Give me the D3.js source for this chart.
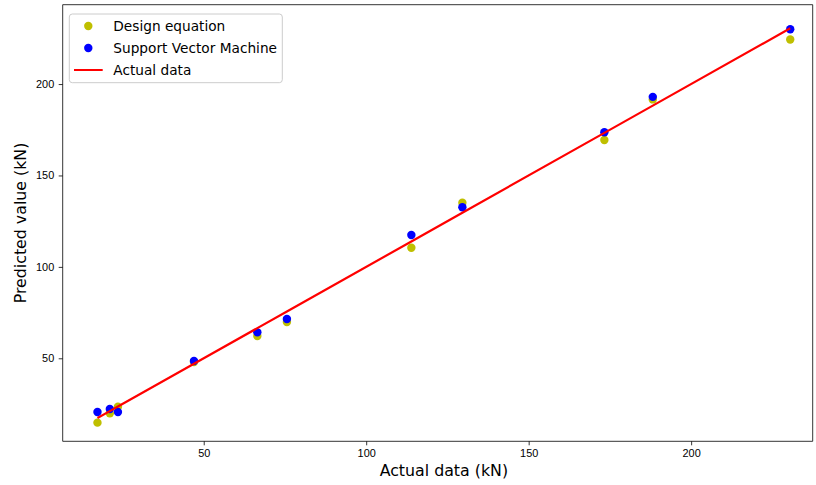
<!DOCTYPE html>
<html>
<head>
<meta charset="utf-8">
<script src="https://cdn.jsdelivr.net/npm/d3@7"></script>
<style>
    body { margin: 0; background: #fff; }
    svg { display: block; font-family: "DejaVu Sans", sans-serif; }
    .tick text { font-size: 10.9px; fill: #000; }
    .axis-label { font-size: 15.8px; fill: #000; }
    .legend-text { font-size: 13.7px; fill: #000; }
</style>
</head>
<body>
<div id="chart"></div>
<script>
// data
let actualData = [17.3, 21.1, 23.6, 47.0, 66.5, 75.6, 113.9, 129.6, 173.3, 188.2, 230.5];
let designEq   = [14.8, 19.9, 23.5, 48.0, 62.2, 69.8, 110.5, 135.1, 169.4, 191.6, 224.4];
let svmPred    = [20.6, 22.3, 20.6, 48.5, 64.2, 71.5, 117.4, 132.6, 173.6, 193.0, 230.0];

let xTicks = [50, 100, 150, 200];
let yTicks = [50, 100, 150, 200];
let seriesNames = ["Design equation", "Support Vector Machine", "Actual data"];

class FitPlot {
    constructor(parentElement) {
        this.parentElement = parentElement;
        this.initVis();
    }

    initVis() {
        let vis = this;

        vis.width = 816;
        vis.height = 485;
        // axes box (right side runs past the cropped picture edge)
        vis.margin = {top: 4.7, left: 62.7, bottom: 441.3, right: 825};
        vis.visibleRight = 812.7;

        vis.svg = d3.select("#" + vis.parentElement).append("svg")
            .attr("width", vis.width)
            .attr("height", vis.height);

        vis.x = d3.scaleLinear()
            .domain([6.6, 241.2])
            .range([vis.margin.left, vis.margin.right]);
        vis.y = d3.scaleLinear()
            .domain([4.6, 243.4])
            .range([vis.margin.bottom, vis.margin.top]);

        vis.wrangleData();
    }

    wrangleData() {
        let vis = this;
        vis.design = actualData.map((a, i) => ({x: a, y: designEq[i]}));
        vis.svm = actualData.map((a, i) => ({x: a, y: svmPred[i]}));
        vis.line = actualData.map(a => ({x: a, y: a})).sort((a, b) => a.x - b.x);
        vis.updateVis();
    }

    updateVis() {
        let vis = this;

        // points
        vis.svg.append("g").selectAll("circle")
            .data(vis.design)
            .enter().append("circle")
            .attr("cx", d => vis.x(d.x))
            .attr("cy", d => vis.y(d.y))
            .attr("r", 4.2)
            .style("fill", "#bfbf00");

        vis.svg.append("g").selectAll("circle")
            .data(vis.svm)
            .enter().append("circle")
            .attr("cx", d => vis.x(d.x))
            .attr("cy", d => vis.y(d.y))
            .attr("r", 4.2)
            .style("fill", "#0000ff");

        // actual data line
        vis.svg.append("path")
            .datum(vis.line)
            .attr("d", d3.line().x(d => vis.x(d.x)).y(d => vis.y(d.y)))
            .style("fill", "none")
            .style("stroke", "#ff0000")
            .style("stroke-width", 2.2);

        // axes
        let xAxis = vis.svg.append("g")
            .attr("transform", `translate(0, ${vis.margin.bottom})`)
            .call(d3.axisBottom(vis.x).tickValues(xTicks).tickSize(4).tickPadding(4));
        let yAxis = vis.svg.append("g")
            .attr("transform", `translate(${vis.margin.left}, 0)`)
            .call(d3.axisLeft(vis.y).tickValues(yTicks).tickSize(4).tickPadding(4.5));
        [xAxis, yAxis].forEach(a => {
            a.select(".domain").remove();
            a.selectAll(".tick line").style("stroke", "#000").style("stroke-width", 0.8);
            a.selectAll(".tick text").attr("font-family", null).attr("font-size", null);
        });
        xAxis.selectAll(".tick text").attr("dy", "0.75em");

        // frame
        vis.svg.append("path")
            .attr("d", `M${vis.margin.left},${vis.margin.top}H${vis.visibleRight}V${vis.margin.bottom}H${vis.margin.left}Z`)
            .style("fill", "none")
            .style("stroke", "#000")
            .style("stroke-width", 0.8);

        // axis labels
        vis.svg.append("text")
            .attr("class", "axis-label")
            .attr("x", (vis.margin.left + vis.margin.right) / 2)
            .attr("y", 476)
            .attr("text-anchor", "middle")
            .text("Actual data (kN)");

        vis.svg.append("text")
            .attr("class", "axis-label")
            .attr("transform", `translate(26, ${(vis.margin.top + vis.margin.bottom) / 2}) rotate(-90)`)
            .attr("text-anchor", "middle")
            .text("Predicted value (kN)");

        // legend
        let legend = vis.svg.append("g");
        legend.append("rect")
            .attr("x", 69.3).attr("y", 14)
            .attr("width", 213).attr("height", 68.7)
            .attr("rx", 3)
            .style("fill", "#fff").style("fill-opacity", 0.8)
            .style("stroke", "#cccccc").style("stroke-width", 1);

        let rowY = [26, 48, 70];
        let colors = ["#bfbf00", "#0000ff", "#ff0000"];
        seriesNames.forEach((name, i) => {
            if (i < 2) {
                legend.append("circle")
                    .attr("cx", 88.3).attr("cy", rowY[i]).attr("r", 4.2)
                    .style("fill", colors[i]);
            } else {
                legend.append("line")
                    .attr("x1", 74).attr("x2", 102.7)
                    .attr("y1", rowY[i]).attr("y2", rowY[i])
                    .style("stroke", colors[i]).style("stroke-width", 2);
            }
            legend.append("text")
                .attr("class", "legend-text")
                .attr("x", 113.3).attr("y", rowY[i])
                .attr("dy", "0.36em")
                .text(name);
        });
    }
}

new FitPlot("chart");
</script>
</body>
</html>
